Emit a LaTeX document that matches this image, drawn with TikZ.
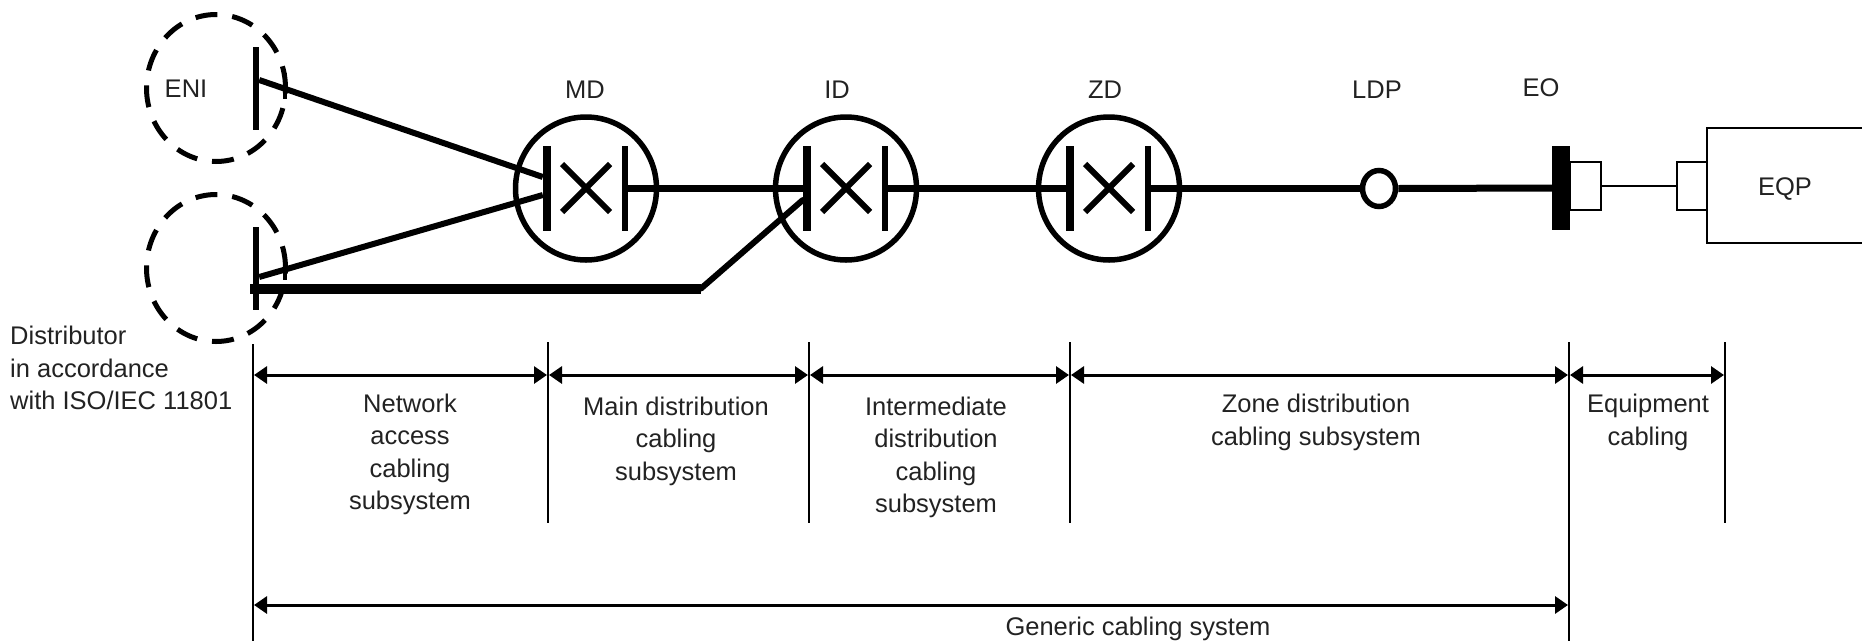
\documentclass[tikz,border=0pt]{standalone}
\usepackage{fontspec}
\setmainfont{Liberation Sans}
\usetikzlibrary{arrows.meta,shapes.geometric}
\definecolor{ink}{HTML}{222222}
\tikzset{
  lab/.style={text=ink,font=\fontsize{25.5}{32.5}\selectfont,inner sep=0pt,align=center},
  dashcirc/.style={ellipse,draw,line width=5pt,minimum width=139pt,minimum height=147pt,inner sep=0pt,dash pattern=on 22pt off 15pt},
  dist/.style={ellipse,draw,line width=5.5pt,minimum width=141pt,minimum height=143pt,inner sep=0pt},
  barthick/.style={rectangle,fill=black,inner sep=0pt,minimum width=8pt,minimum height=85pt},
  barthin/.style={rectangle,fill=black,inner sep=0pt,minimum width=6pt,minimum height=85pt},
  barA/.style={rectangle,fill=black,inner sep=0pt,minimum width=6pt,minimum height=83pt},
  tickmark/.style={rectangle,fill=black,inner sep=0pt,minimum width=4.5pt,minimum height=26pt},
  wire/.style={line width=6pt},
  dim/.style={line width=3pt,{Triangle[length=13pt,width=17pt]}-{Triangle[length=13pt,width=17pt]},shorten <=1pt,shorten >=1pt},
  sep/.style={line width=1.8pt},
  cross/.style={line width=6pt},
  thinbox/.style={rectangle,draw,line width=1.8pt,inner sep=0pt}
}
\begin{document}
\begin{tikzpicture}[x=1pt,y=-1pt]
\useasboundingbox (0,0) rectangle (1862,643);
% dashed distributors
\node[dashcirc] (d1) at (216,88) {};
\node[dashcirc] (d2) at (216,268) {};
\node[lab] (eni) at (186,89) {ENI};
\node[barA] (b1) at (256,88) {};
\node[barA] (b2) at (256,268) {};
\node[tickmark] (t1) at (285,86) {};
\node[tickmark] (t2) at (285,267) {};
% distributors
\node[dist] (md) at (586,188.5) {};
\node[dist] (id) at (846,188.5) {};
\node[dist] (zd) at (1109,188.5) {};
\foreach \n/\x in {md/586,id/846,zd/1109}{
  \node[barthick] (\n L) at (\x-39,188.5) {};
  \node[barthin] (\n R) at (\x+39,188.5) {};
  \coordinate (\n a) at (\x-24,164);
  \coordinate (\n b) at (\x+24,212);
  \coordinate (\n c) at (\x+24,164);
  \coordinate (\n d) at (\x-24,212);
  \draw[cross] (\n a) -- (\n b);
  \draw[cross] (\n c) -- (\n d);
}
\node[lab] (mdl) at (585,90) {MD};
\node[lab] (idl) at (837,90) {ID};
\node[lab] (zdl) at (1105,90) {ZD};
\node[lab] (ldpl) at (1377,90) {LDP};
\node[lab] (eol) at (1541,88) {EO};
\node[lab] (eqpl) at (1785,189) {EQP};
\node[ellipse,draw,line width=5.5pt,minimum width=33pt,minimum height=36pt,inner sep=0pt] (ldp) at (1379,188.5) {};
\node[rectangle,fill=black,inner sep=0pt,minimum width=18pt,minimum height=84pt] (eo) at (1561,188) {};
\node[thinbox,minimum width=31pt,minimum height=48pt] (eobox) at (1585.5,186) {};
\node[thinbox,minimum width=30pt,minimum height=48pt] (eqbox) at (1692,186) {};
\coordinate (eqtl) at (1707,128);
\coordinate (eqtr) at (1866,128);
\coordinate (eqbl) at (1707,243);
\coordinate (eqbr) at (1866,243);
\draw[line width=2pt] (eqtr) -- (eqtl) -- (eqbl) -- (eqbr);
\draw[line width=2pt] (eobox.east) -- (eqbox.west);
% wires
\coordinate (m1) at (mdL.west |- 0,177);
\coordinate (m2) at (mdL.west |- 0,195);
\draw[wire] (b1.east |- 0,80) -- (m1);
\draw[wire] (b2.east |- 0,277) -- (m2);
\draw[line width=6.5pt] (mdR.east) -- (idL.west);
\draw[line width=7pt] (idR.east) -- (zdL.west);
\draw[line width=7pt] (zdR.east) -- (ldp.west);
\draw[line width=7pt] (ldp.east) -- (eo.west);
\coordinate (tk0) at (250,288.5);
\coordinate (tk1) at (701,288.5);
\coordinate (tk2) at (idL.west |- 0,200);
\draw[line width=10pt] (tk0) -- (tk1);
\draw[wire,line cap=round] (tk1) -- (tk2);
% dimension lines
\foreach \n/\x in {a/253,b/548,c/809,d/1070,e/1569,f/1725}{
  \coordinate (\n t) at (\x,342);
  \coordinate (\n m) at (\x,375);
  \coordinate (\n e) at (\x,523);
}
\draw[sep] (at) ++(0,2) -- (at |- 0,641);
\draw[sep] (bt) -- (be);
\draw[sep] (ct) -- (ce);
\draw[sep] (dt) -- (de);
\draw[sep] (et) -- (et |- 0,641);
\draw[sep] (ft) -- (fe);
\draw[dim] (am) -- (bm);
\draw[dim] (bm) -- (cm);
\draw[dim] (cm) -- (dm);
\draw[dim] (dm) -- (em);
\draw[dim] (em) -- (fm);
\coordinate (gl) at (253,605);
\coordinate (gr) at (1569,605);
\draw[dim] (gl) -- (gr);
% labels
\node[lab,align=left,anchor=north west] (dlab) at (10,326) {Distributor\\in accordance\\with ISO/IEC 11801};
\node[lab,anchor=north] (n1) at (410,393.5) {Network\\access\\cabling\\subsystem};
\node[lab,anchor=north] (n2) at (676,396.5) {Main distribution\\cabling\\subsystem};
\node[lab,anchor=north] (n3) at (936,396.5) {Intermediate\\distribution\\cabling\\subsystem};
\node[lab,anchor=north] (n4) at (1316,394) {Zone distribution\\cabling subsystem};
\node[lab,anchor=north] (n5) at (1648,394) {Equipment\\cabling};
\node[lab] (n6) at (1138,628.5) {Generic cabling system};
\end{tikzpicture}
\end{document}
